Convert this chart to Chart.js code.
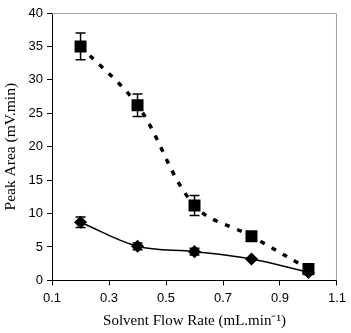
<!DOCTYPE html>
<html>
<head>
<meta charset="utf-8">
<script src="https://cdn.jsdelivr.net/npm/chart.js@4"></script>
<style>
  html, body { margin: 0; padding: 0; background: #fff; }
  #wrap { width: 351px; height: 333px; }
</style>
</head>
<body>
<div id="wrap"><canvas id="chart" width="351" height="333"></canvas></div>
<script>
// flow rates (mL/min)
var flowRates = [0.2, 0.4, 0.6, 0.8, 1.0];
// upper series (squares, dashed)
var squareArea = [35.0, 26.2, 11.2, 6.6, 1.7];
var squareErr = [2.0, 1.7, 1.5, 0, 0];
// lower series (diamonds, solid)
var diamondArea = [8.7, 5.1, 4.3, 3.2, 1.2];
var diamondErr = [0.8, 0.5, 0.5, 0, 0.3];

function toPoints(xs, ys) {
    return xs.map(function (x, i) { return { x: x, y: ys[i] }; });
}

/**
 * Draws vertical error bars with caps for every dataset that has "errors".
 */
var errorBars = {
    id: 'errorBars',
    afterDatasetsDraw: function (chart) {
        var ctx = chart.ctx;
        var xs = chart.scales.x, ys = chart.scales.y;
        ctx.save();
        ctx.strokeStyle = '#000';
        ctx.lineWidth = 1.5;
        chart.data.datasets.forEach(function (ds) {
            if (!ds.errors) return;
            ds.data.forEach(function (p, i) {
                var e = ds.errors[i];
                if (!e) return;
                var px = xs.getPixelForValue(p.x);
                var top = ys.getPixelForValue(p.y + e);
                var bot = ys.getPixelForValue(p.y - e);
                ctx.beginPath();
                ctx.moveTo(px, top); ctx.lineTo(px, bot);
                ctx.moveTo(px - 5, top); ctx.lineTo(px + 5, top);
                ctx.moveTo(px - 5, bot); ctx.lineTo(px + 5, bot);
                ctx.stroke();
            });
        });
        ctx.restore();
    }
};

/**
 * Gray frame round the plot area.
 */
var frame = {
    id: 'frame',
    beforeDatasetsDraw: function (chart) {
        var a = chart.chartArea, ctx = chart.ctx;
        ctx.save();
        ctx.strokeStyle = '#a0a0a0';
        ctx.lineWidth = 1;
        ctx.beginPath();
        ctx.moveTo(a.left, a.top + 0.5);
        ctx.lineTo(a.right - 0.5, a.top + 0.5);
        ctx.lineTo(a.right - 0.5, a.bottom);
        ctx.stroke();
        ctx.restore();
    }
};

var ctx = document.getElementById('chart').getContext('2d');
new Chart(ctx, {
    type: 'line',
    data: {
        datasets: [{
            label: 'squares',
            data: toPoints(flowRates, squareArea),
            errors: squareErr,
            borderColor: '#000',
            backgroundColor: '#000',
            borderWidth: 3.5,
            borderDash: [5, 8],
            pointStyle: 'rect',
            pointRadius: 6,
            tension: 0.35
        }, {
            label: 'diamonds',
            data: toPoints(flowRates, diamondArea),
            errors: diamondErr,
            borderColor: '#000',
            backgroundColor: '#000',
            borderWidth: 1.5,
            pointStyle: 'rectRot',
            pointRadius: 5.5,
            tension: 0.35
        }]
    },
    options: {
        responsive: false,
        animation: false,
        layout: { padding: { top: 13, right: 8, left: 0, bottom: 0 } },
        plugins: {
            legend: { display: false },
            tooltip: { enabled: false }
        },
        scales: {
            x: {
                type: 'linear',
                min: 0.1,
                max: 1.1,
                ticks: {
                    stepSize: 0.2,
                    color: '#000',
                    font: { family: 'Liberation Sans, Arial', size: 13 },
                    callback: function (v) { return v.toFixed(1); },
                    padding: 5
                },
                grid: { drawOnChartArea: false, color: '#000', tickLength: 5 },
                border: { color: '#000', width: 1 },
                title: {
                    display: true,
                    text: 'Solvent Flow Rate (mL.min\u207B\u00B9)',
                    color: '#000',
                    font: { family: 'Liberation Serif, Times New Roman', size: 15 },
                    padding: { top: 1, bottom: 3 }
                }
            },
            y: {
                min: 0,
                max: 40,
                ticks: {
                    stepSize: 5,
                    color: '#000',
                    font: { family: 'Liberation Sans, Arial', size: 13 },
                    padding: 4
                },
                grid: { drawOnChartArea: false, color: '#000', tickLength: 5 },
                border: { color: '#000', width: 1 },
                title: {
                    display: true,
                    text: 'Peak Area (mV.min)',
                    color: '#000',
                    font: { family: 'Liberation Serif, Times New Roman', size: 15.5 },
                    padding: { top: 2, bottom: 4 }
                }
            }
        }
    },
    plugins: [frame, errorBars]
});
</script>
</body>
</html>
